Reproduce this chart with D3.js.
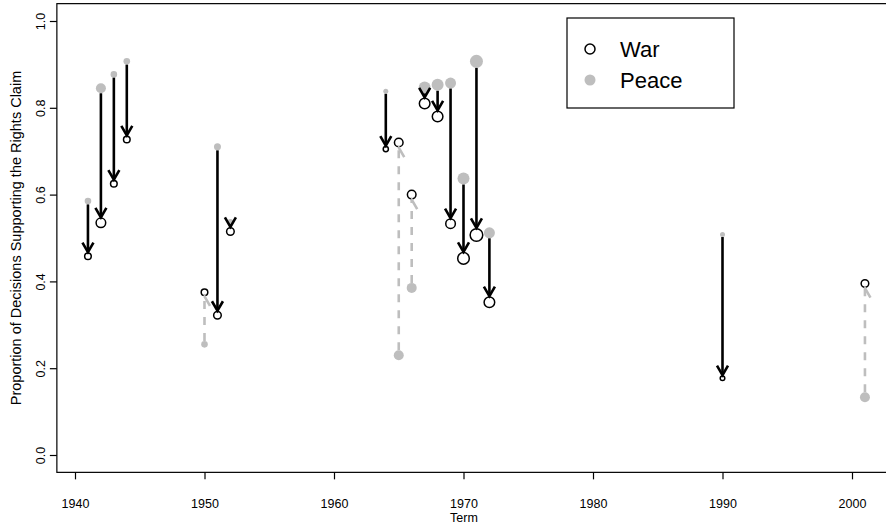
<!DOCTYPE html>
<html><head><meta charset="utf-8">
<script src="https://cdn.jsdelivr.net/npm/d3@7"></script>
<style>body{margin:0;background:#fff}svg{display:block}text{font-family:"Liberation Sans",Arial,Helvetica,sans-serif}</style>
</head><body><svg id="c" width="886" height="531"></svg>
<script>
const terms     = [1941,1942,1943,1944,1950,1951,1952,1964,1965,1966,1967,1968,1969,1970,1971,1972,1990,2001];
const warVals   = [0.458,0.535,0.625,0.727,0.375,0.322,0.515,0.705,0.720,0.600,0.810,0.780,0.533,0.453,0.507,0.352,0.177,0.395];
const peaceVals = [0.585,0.845,0.877,0.907,0.255,0.710,0.537,0.838,0.230,0.385,0.847,0.853,0.857,0.637,0.907,0.512,0.508,0.133];
const warSize   = [4,5.5,4,4,4,4.5,4.5,3.3,5,5,6,6,5.5,6.5,7,6,3,4.5];
const peaceSize = [3.3,5,3.3,3.3,3.3,3.5,3,2.5,5,5,6,6,5.5,6,6.5,5.5,2.5,5];
const xTicks = [1940,1950,1960,1970,1980,1990,2000];
const yTicks = [0,0.2,0.4,0.6,0.8,1.0];
const yTickLabels = ["0.0","0.2","0.4","0.6","0.8","1.0"];

const svg = d3.select("#c");
const x = d3.scaleLinear().domain([1940,2000]).range([75,852]);
const y = d3.scaleLinear().domain([0,1]).range([455,21]);
const gray = "#bebebe";

// box
const x0 = x(1938.6), x1 = x(2003.4), y0 = y(1.04), y1 = y(-0.04);
svg.append("rect").attr("x",x0).attr("y",y0).attr("width",x1-x0).attr("height",y1-y0)
  .attr("fill","none").attr("stroke","#000").attr("stroke-width",1.2);

// axes
const xAxis = d3.axisBottom(x).tickValues(xTicks).tickFormat(d3.format("d")).tickSize(7).tickPadding(20);
const gx = svg.append("g").attr("transform",`translate(0,${y1})`).call(xAxis);
gx.select(".domain").remove();
gx.selectAll("line").attr("stroke-width",1.2);
gx.selectAll("text").attr("font-size",12.5).attr("fill","#000");

const yAxis = d3.axisLeft(y).tickValues(yTicks).tickFormat((d,i)=>yTickLabels[i]).tickSize(7);
const gy = svg.append("g").attr("transform",`translate(${x0},0)`).call(yAxis);
gy.select(".domain").remove();
gy.selectAll("line").attr("stroke-width",1.2);
gy.selectAll("text").attr("font-size",12.5).attr("fill","#000")
  .attr("x",0).attr("y",0).attr("dy",0)
  .attr("text-anchor","middle")
  .attr("transform","translate(-12,0) rotate(-90)");

svg.append("text").attr("x",464).attr("y",522).attr("text-anchor","middle")
  .attr("font-size",12.5).text("Term");
svg.append("text").attr("transform",`translate(21,${(y(0)+y(1))/2}) rotate(-90)`)
  .attr("text-anchor","middle").attr("font-size",14.5)
  .text("Proportion of Decisions Supporting the Rights Claim");

const data = terms.map((t,i)=>({t,w:warVals[i],p:peaceVals[i],rw:warSize[i],rp:peaceSize[i]}));

// points
svg.append("g").selectAll("circle").data(data).join("circle")
  .attr("cx",d=>x(d.t)).attr("cy",d=>y(d.p)).attr("r",d=>d.rp).attr("fill",gray);
svg.append("g").selectAll("circle").data(data).join("circle")
  .attr("cx",d=>x(d.t)).attr("cy",d=>y(d.w)).attr("r",d=>d.rw-0.7)
  .attr("fill","none").attr("stroke","#000").attr("stroke-width",1.5);

// arrows
const L = 11, ang = Math.PI/6;
const ga = svg.append("g");
data.forEach(d=>{
  const cx = x(d.t);
  const down = d.w < d.p;
  const dir = down ? 1 : -1;
  const ys = y(d.p) + dir*d.rp;
  const ye = y(d.w) - dir*d.rw;
  const col = down ? "#000" : gray;
  ga.append("line").attr("x1",cx).attr("x2",cx).attr("y1",ys).attr("y2",ye)
    .attr("stroke",col).attr("stroke-width",2.6).attr("stroke-dasharray",down?null:"8,8");
  const bx = L*Math.sin(ang), by = -dir*L*Math.cos(ang);
  const pts = [[cx+bx,ye+by],[cx,ye],[cx-bx,ye+by]];
  ga.append("path").attr("d",d3.line()(pts)).attr("fill","none")
    .attr("stroke",col).attr("stroke-width",2.6).attr("stroke-dasharray",down?null:"11,100")
    .attr("stroke-linejoin","miter").attr("stroke-linecap","butt");
});

// legend
const lg = svg.append("g");
lg.append("rect").attr("x",567).attr("y",18).attr("width",167).attr("height",90)
  .attr("fill","#fff").attr("stroke","#000").attr("stroke-width",1.2);
lg.append("circle").attr("cx",590).attr("cy",49).attr("r",5).attr("fill","none").attr("stroke","#000").attr("stroke-width",1.5);
lg.append("circle").attr("cx",590).attr("cy",80).attr("r",5.5).attr("fill",gray);
lg.append("text").attr("x",620).attr("y",49).attr("dy","0.35em").attr("font-size",22).text("War");
lg.append("text").attr("x",620).attr("y",80).attr("dy","0.35em").attr("font-size",22).text("Peace");
</script></body></html>
